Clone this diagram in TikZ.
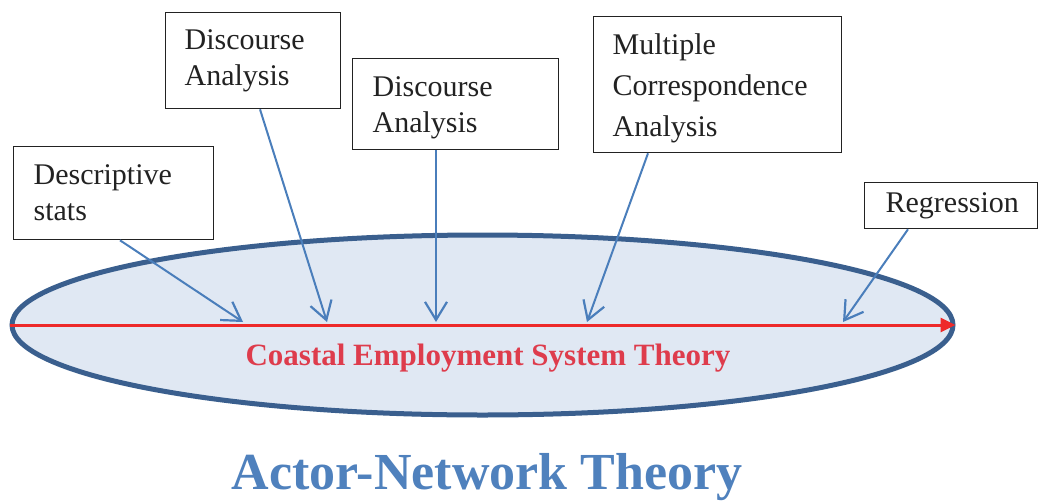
\documentclass[tikz,border=0pt]{standalone}
\usepackage{fontspec}
\setmainfont{Liberation Serif}
\usetikzlibrary{shapes.geometric,arrows.meta}

\definecolor{rimblue}{HTML}{3A5F8E}
\definecolor{fillblue}{HTML}{E0E8F3}
\definecolor{linkblue}{HTML}{4A7EBB}
\definecolor{axisred}{HTML}{EE2A2A}
\definecolor{theoryred}{HTML}{DE3C4C}
\definecolor{titleblue}{HTML}{4F81BD}
\definecolor{ink}{HTML}{222222}

\tikzset{
  methodbox/.style={draw=ink, line width=1.3pt, fill=white, rectangle,
    anchor=north west, align=left, inner ysep=0pt, text=ink,
    font=\fontsize{30}{36}\selectfont},
  link/.style={draw=linkblue, line width=2pt,
    -{Straight Barb[length=18pt,width=22pt,line width=2.2pt]}},
}

\begin{document}
\begin{tikzpicture}[x=1pt, y=-1pt]
\useasboundingbox (0,0) rectangle (1042,501);

% the framing theory: ellipse with its red axis
\node[ellipse, draw=rimblue, line width=5pt, fill=fillblue, inner sep=0pt,
      minimum width=941pt, minimum height=180pt] (cest) at (482.5,325) {};
\draw[axisred, line width=3pt, -{Triangle[length=15pt,width=14pt]}]
  (cest.west) -- (cest.east);
\node[anchor=base, text=theoryred, font=\fontsize{31}{36}\selectfont\bfseries]
  (cestlabel) at (488,365) {Coastal Employment System Theory};

% method boxes
\node[methodbox, text width=160pt, inner xsep=20pt, minimum height=93pt]
  (ds) at (13,146) {Descriptive\\stats};
\node[methodbox, text width=137pt, inner xsep=19pt, minimum height=96pt]
  (da1) at (165,12) {Discourse\\Analysis};
\node[methodbox, text width=166pt, inner xsep=20pt, minimum height=91pt]
  (da2) at (352,58) {\rule{0pt}{28pt}Discourse\\Analysis};
\node[methodbox, text width=210pt, inner xsep=19pt, minimum height=136pt,
      font=\fontsize{30}{41}\selectfont]
  (mca) at (593,16) {\rule{0pt}{29pt}Multiple\\Correspondence\\Analysis};
\node[methodbox, text width=131pt, inner xsep=21pt, minimum height=46pt]
  (reg) at (864,182) {Regression};

% where each method meets the axis
\coordinate (h1) at (243,322);
\coordinate (h2) at (327,322);
\coordinate (h3) at (436,322);
\coordinate (h4) at (587,322);
\coordinate (h5) at (843,322);

\draw[link] ([xshift=107pt]ds.south west) -- (h1);
\draw[link] ([xshift=95pt]da1.south west) -- (h2);
\draw[link] ([xshift=84pt]da2.south west) -- (h3);
\draw[link] ([xshift=55pt]mca.south west) -- (h4);
\draw[link] ([xshift=44pt]reg.south west) -- (h5);

% overall title
\node[anchor=base, text=titleblue, font=\fontsize{52}{60}\selectfont\bfseries]
  (ant) at (487,489) {Actor-Network Theory};
\end{tikzpicture}
\end{document}
